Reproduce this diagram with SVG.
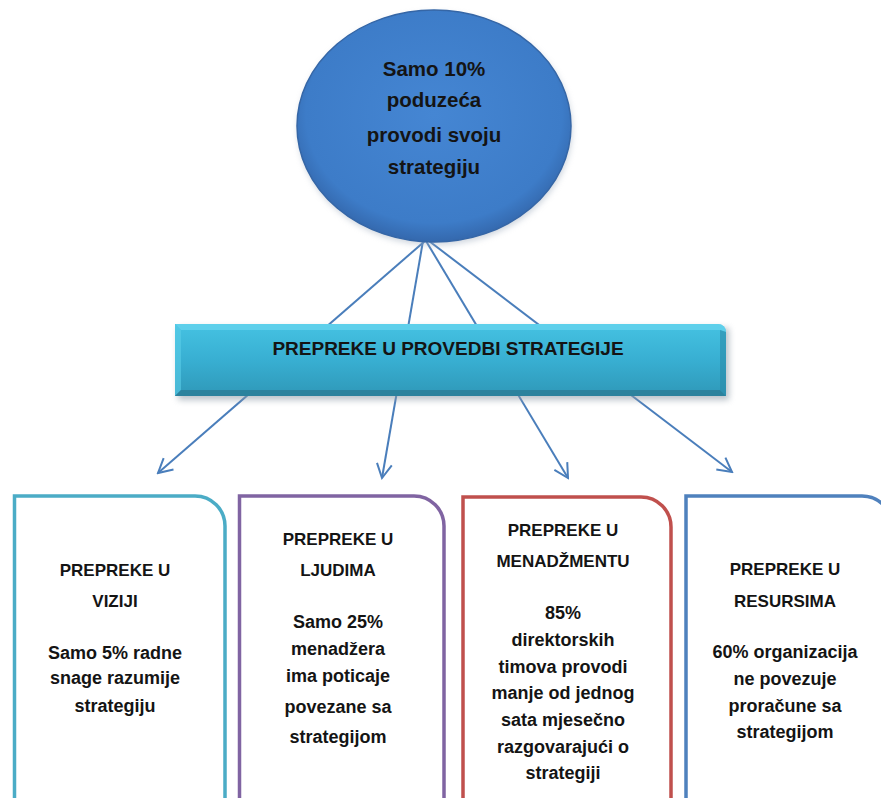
<svg xmlns="http://www.w3.org/2000/svg" width="881" height="798" viewBox="0 0 881 798">
  <style>
    .t { font-family: "Liberation Sans", Arial, sans-serif; font-weight: bold; fill: #141414; text-anchor: middle; }
    .h { font-size: 17px; }
    .b { font-size: 18px; }
    .e { font-size: 20.5px; }
    .bar { font-size: 19px; }
    .conn { stroke: #4A7EBB; stroke-width: 2; fill: none; marker-end: url(#ah); }
    .box { fill: #FFFFFF; stroke-width: 3.5; }
  </style>
  <defs>
    <marker id="ah" viewBox="-16 -9 18 18" refX="0" refY="0" markerWidth="18" markerHeight="18" markerUnits="userSpaceOnUse" orient="auto">
      <path d="M-14,-7.5 L0,0 L-14,7.5" fill="none" stroke="#4A7EBB" stroke-width="2"/>
    </marker>
    <radialGradient id="ellG" cx="0.5" cy="0.45" r="0.55">
      <stop offset="0" stop-color="#4586D3"/>
      <stop offset="0.85" stop-color="#3D7CC8"/>
      <stop offset="1" stop-color="#3468AD"/>
    </radialGradient>
    <linearGradient id="barG" x1="0" y1="0" x2="0" y2="1">
      <stop offset="0" stop-color="#45C2E2"/>
      <stop offset="0.5" stop-color="#38AFD2"/>
      <stop offset="1" stop-color="#2F98B8"/>
    </linearGradient>
    <filter id="sh" x="-10%" y="-30%" width="120%" height="160%">
      <feGaussianBlur stdDeviation="3"/>
    </filter>
  </defs>

  <g id="connectors">
    <line class="conn" x1="425" y1="241" x2="158" y2="473"/>
    <line class="conn" x1="423" y1="241" x2="382" y2="478"/>
    <line class="conn" x1="426" y1="241" x2="568" y2="478"/>
    <line class="conn" x1="429" y1="241" x2="732" y2="472"/>
  </g>

  <g id="ellipse-node">
    <ellipse cx="435" cy="129" rx="137" ry="116" fill="#9AA8BA" opacity="0.5" filter="url(#sh)"/>
    <ellipse cx="434" cy="126" rx="137" ry="116" fill="url(#ellG)" stroke="#3566A6" stroke-width="1.5"/>
    <text class="t e" x="434" y="76">Samo 10%</text>
    <text class="t e" x="434" y="107">poduzeća</text>
    <text class="t e" x="434" y="142">provodi svoju</text>
    <text class="t e" x="434" y="174">strategiju</text>
  </g>

  <g id="bar-node">
    <rect x="178" y="328" width="551" height="72" fill="#8C9AA6" opacity="0.6" filter="url(#sh)"/>
    <path d="M175,324 H718 A8,8 0 0 1 726,332 V396 H175 Z" fill="url(#barG)"/>
    <path d="M175,324 H718 A8,8 0 0 1 726,332 L720,330 H181 Z" fill="#6AD6F0" opacity="0.7"/>
    <path d="M175,324 L181,330 V390 L175,396 Z" fill="#5ACDE8" opacity="0.6"/>
    <path d="M175,396 L181,390 H720 L726,396 Z" fill="#2A7C96" opacity="0.8"/>
    <path d="M726,332 L720,330 V390 L726,396 Z" fill="#2C8BA8" opacity="0.6"/>
    <text class="t bar" x="448" y="355">PREPREKE U PROVEDBI STRATEGIJE</text>
  </g>

  <g id="box-vizija">
    <path class="box" stroke="#4BACC6" d="M14.5,810 V496 H195 A30,30 0 0 1 225,526 V810"/>
    <text class="t h" x="115" y="576">PREPREKE U</text>
    <text class="t h" x="115" y="607">VIZIJI</text>
    <text class="t b" x="115" y="659">Samo 5% radne</text>
    <text class="t b" x="115" y="684">snage razumije</text>
    <text class="t b" x="115" y="712">strategiju</text>
  </g>

  <g id="box-ljudi">
    <path class="box" stroke="#8064A2" d="M239.5,810 V496 H414 A30,30 0 0 1 444,526 V810"/>
    <text class="t h" x="338" y="545">PREPREKE U</text>
    <text class="t h" x="338" y="576">LJUDIMA</text>
    <text class="t b" x="338" y="628">Samo 25%</text>
    <text class="t b" x="338" y="655">menadžera</text>
    <text class="t b" x="338" y="682">ima poticaje</text>
    <text class="t b" x="338" y="713">povezane sa</text>
    <text class="t b" x="338" y="743">strategijom</text>
  </g>

  <g id="box-menadzment">
    <path class="box" stroke="#C0504D" d="M463,810 V497 H641 A30,30 0 0 1 671,527 V810"/>
    <text class="t h" x="563" y="536">PREPREKE U</text>
    <text class="t h" x="563" y="567">MENADŽMENTU</text>
    <text class="t b" x="563" y="619">85%</text>
    <text class="t b" x="563" y="646">direktorskih</text>
    <text class="t b" x="563" y="673">timova provodi</text>
    <text class="t b" x="563" y="699">manje od jednog</text>
    <text class="t b" x="563" y="726">sata mjesečno</text>
    <text class="t b" x="563" y="753">razgovarajući o</text>
    <text class="t b" x="563" y="779">strategiji</text>
  </g>

  <g id="box-resursi">
    <path class="box" stroke="#4F81BD" d="M686,810 V496 H862 A30,30 0 0 1 892,526 V810"/>
    <text class="t h" x="785" y="575">PREPREKE U</text>
    <text class="t h" x="785" y="607">RESURSIMA</text>
    <text class="t b" x="785" y="658">60% organizacija</text>
    <text class="t b" x="785" y="685">ne povezuje</text>
    <text class="t b" x="785" y="712">proračune sa</text>
    <text class="t b" x="785" y="738">strategijom</text>
  </g>
</svg>
